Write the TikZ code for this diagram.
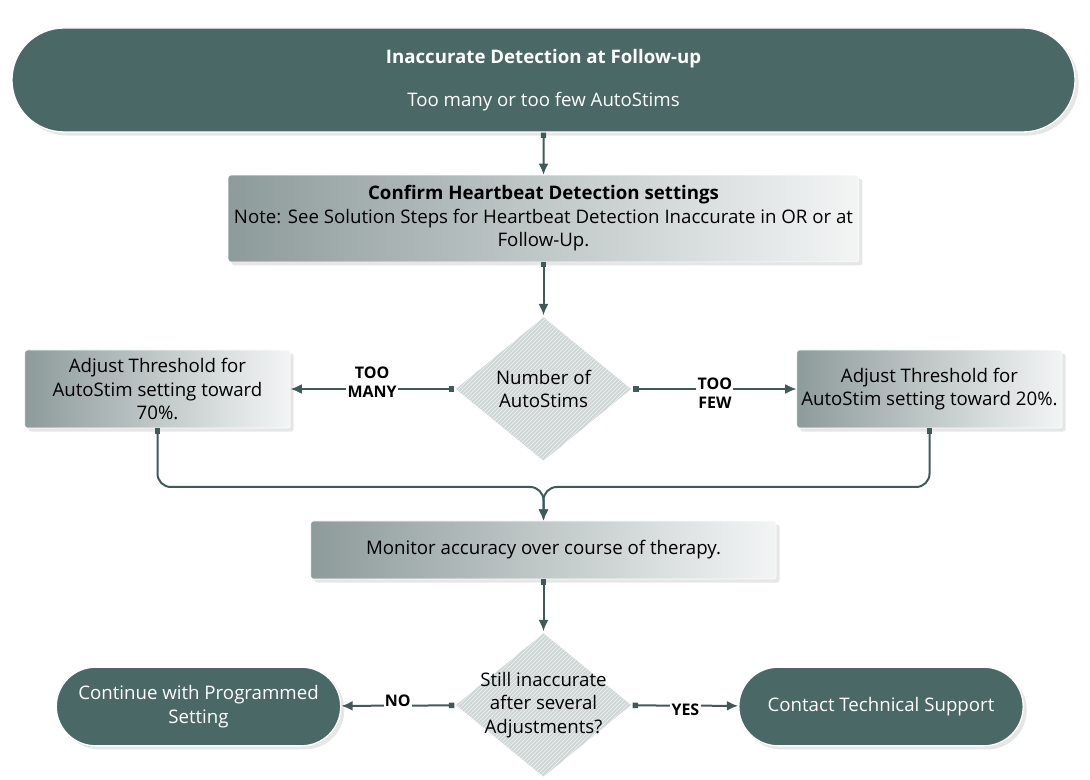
\documentclass[tikz,border=0pt]{standalone}
\usepackage{fontspec}
\setmainfont{Open Sans}
\usetikzlibrary{shapes.geometric,shapes.misc,arrows.meta,shadows,patterns}
\definecolor{termcol}{HTML}{4A6866}
\definecolor{linecol}{HTML}{3F5A59}
\definecolor{boxdark}{HTML}{8E9B9B}
\definecolor{boxlight}{HTML}{F3F5F5}
\definecolor{diafill}{HTML}{D0D5D5}
\begin{document}
\begin{tikzpicture}[x=0.75pt,y=-0.75pt,font=\fontsize{14}{17.6}\selectfont,
  term/.style={rounded rectangle,fill=termcol,draw=white,line width=1pt,text=white,align=center,drop shadow={opacity=0.2}},
  stepbox/.style={rectangle,rounded corners=2pt,left color=boxdark,right color=boxlight,draw=white,inner sep=1pt,align=center,drop shadow={opacity=0.2}},
  decide/.style={diamond,fill=diafill,draw=white,line width=1pt,inner sep=-20pt,align=center,minimum width=133.5pt,minimum height=109.5pt,postaction={pattern=north east lines,pattern color=white!70!diafill}},
  flow/.style={draw=linecol,line width=1.5pt,{Square[length=4pt,width=4pt]}-{Latex[length=8.5pt,width=7.5pt]}},
  tag/.style={fill=white,font=\bfseries\fontsize{12}{14.5}\selectfont,align=center,inner sep=1pt}]
  \useasboundingbox (0,0) rectangle (1090,780);
  \node[term,minimum width=804pt,minimum height=78pt] (start) at (543.5,80) {\textbf{Inaccurate Detection at Follow-up}\\[15pt]Too many or too few AutoStims};
  \node[stepbox,minimum width=473pt,minimum height=65pt] (confirm) at (543.5,218.5) {\textbf{Confirm Heartbeat Detection settings}\\Note: See Solution Steps for Heartbeat Detection Inaccurate in OR or at\\Follow-Up.};
  \node[decide] (count) at (543.5,389) {Number of\\AutoStims};
  \node[stepbox,minimum width=199pt,minimum height=58.5pt] (many) at (157.5,389) {Adjust Threshold for\\AutoStim setting toward\\70\%.};
  \node[stepbox,minimum width=199pt,minimum height=58.5pt] (few) at (929.5,389) {Adjust Threshold for\\AutoStim setting toward 20\%.};
  \coordinate (merge) at (543.5,487);
  \node[stepbox,minimum width=349pt,minimum height=43.5pt] (monitor) at (543.5,550) {Monitor accuracy over course of therapy.};
  \node[decide] (still) at (543.5,705) {Still inaccurate\\after several\\Adjustments?};
  \node[term,minimum width=220pt,minimum height=59pt] (cont) at (198.5,706.5) {Continue with Programmed\\Setting};
  \node[term,minimum width=220pt,minimum height=59pt] (support) at (881,706.5) {Contact Technical Support};
  \draw[flow] (start) -- (confirm);
  \draw[flow] (confirm) -- (count);
  \draw[flow] (count) -- node[tag,yshift=5pt]{TOO\\MANY} (many);
  \draw[flow] (count) -- node[tag,yshift=-3pt]{TOO\\FEW} (few);
  \draw[flow,rounded corners=10pt] (many.south) |- (merge) -- (monitor.north);
  \draw[flow,rounded corners=10pt] (few.south) |- (merge) -- (monitor.north);
  \draw[flow] (monitor) -- (still);
  \draw[flow] (still) -- node[tag,yshift=4pt]{NO} (cont);
  \draw[flow] (still) -- node[tag,yshift=-3pt]{YES} (support);
\end{tikzpicture}
\end{document}
